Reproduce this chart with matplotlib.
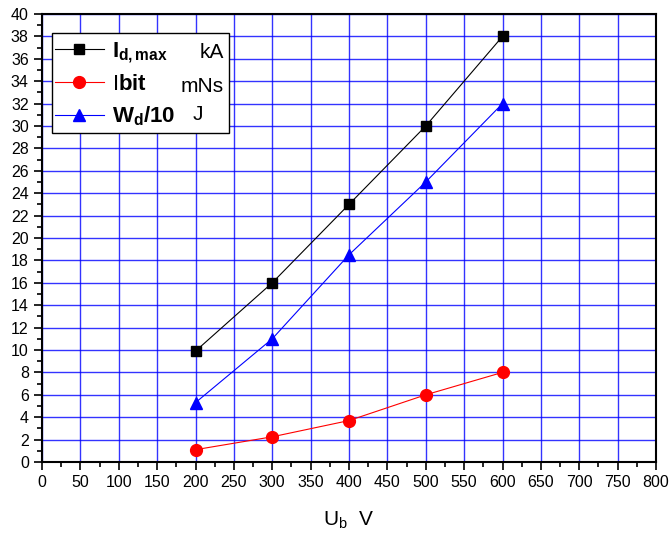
import numpy as np
import matplotlib
matplotlib.use('Agg')
import matplotlib.pyplot as plt
from matplotlib.ticker import MultipleLocator
from matplotlib.patches import Rectangle

plt.rcParams['font.family'] = 'Liberation Sans'
plt.rcParams['mathtext.fontset'] = 'custom'
plt.rcParams['mathtext.rm'] = 'Liberation Sans'
plt.rcParams['mathtext.bf'] = 'Liberation Sans:bold'
plt.rcParams['mathtext.it'] = 'Liberation Sans:italic'

# data
ub = [200, 300, 400, 500, 600]
i_dmax = [9.9, 16, 23, 30, 38]
i_bit = [1.1, 2.25, 3.7, 6, 8]
w_d10 = [5.3, 11, 18.5, 25, 32]

W, H = 672, 535
fig = plt.figure(figsize=(W/100, H/100), dpi=100)
ax = fig.add_axes([42/W, 1-462/H, (656-42)/W, (462-14)/H])

ax.plot(ub, i_dmax, color='black', lw=0.8, marker='s', ms=7.5, label=r'$\mathbf{I_{d,max}}$', zorder=3)
ax.plot(ub, i_bit, color='red', lw=0.8, marker='o', ms=8.5, label=r'I$\mathbf{bit}$', zorder=3)
ax.plot(ub, w_d10, color='blue', lw=0.8, marker='^', ms=9, label=r'$\mathbf{W_d/10}$', zorder=3)

ax.set_xlim(0, 800)
ax.set_ylim(0, 40)
ax.xaxis.set_major_locator(MultipleLocator(50))
ax.xaxis.set_minor_locator(MultipleLocator(25))
ax.yaxis.set_major_locator(MultipleLocator(2))
ax.yaxis.set_minor_locator(MultipleLocator(1))
ax.grid(True, which='major', color='#0000ff', lw=1.0, alpha=0.8)
ax.set_axisbelow(True)
ax.tick_params(which='major', length=6, width=1.2, labelsize=11.5, direction='out')
ax.tick_params(which='minor', length=3.5, width=1.2, direction='out')
for s in ax.spines.values():
    s.set_linewidth(1.5)

ax.set_xlabel(r'U$_\mathrm{b}$  V', fontsize=15, labelpad=14)

# legend box drawn by hand so the units fit inside
box = Rectangle((52/W, 1-133/H), (229-52)/W, (133-33)/H, transform=fig.transFigure,
                facecolor='white', edgecolor='black', lw=1.0, zorder=4.5)
ax.add_patch(box)
box.set_clip_on(False)

leg = ax.legend(loc='upper left', bbox_to_anchor=(55/W, 1-40/H), bbox_transform=fig.transFigure,
                fontsize=16, handlelength=2.2, handletextpad=0.35, labelspacing=0.42,
                frameon=False, borderpad=0.0, borderaxespad=0)
leg.set_zorder(5)

# units in the legend
for txt, xp, yp, ha in [('kA', 224, 52, 'right'), ('mNs', 224, 86, 'right'), ('J', 193, 114, 'left')]:
    ax.text(xp/W, 1-yp/H, txt, ha=ha, va='center', fontsize=15,
            transform=fig.transFigure, zorder=6)

fig.savefig('out.png', dpi=100)
